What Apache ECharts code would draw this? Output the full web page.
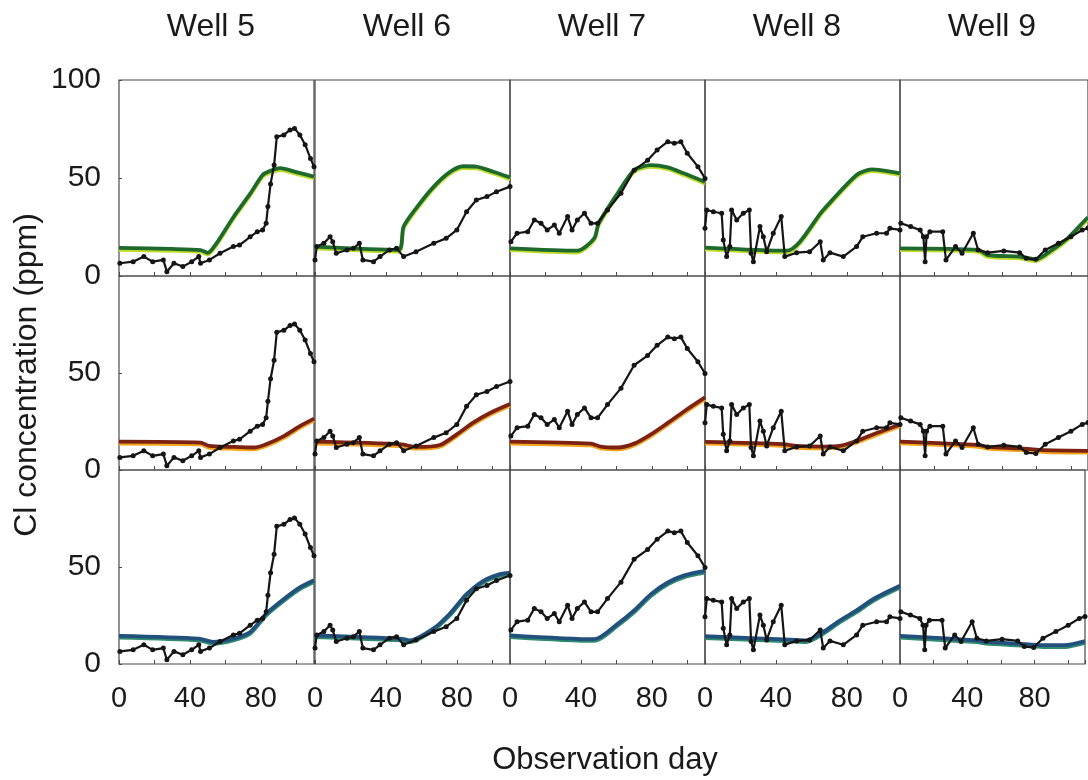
<!DOCTYPE html>
<html>
<head>
<meta charset="utf-8">
<script src="https://cdn.jsdelivr.net/npm/echarts@6/dist/echarts.min.js"></script>
<style>
html, body { margin: 0; padding: 0; background: #fff; }
#chart { width: 1088px; height: 780px; }
</style>
</head>
<body>
<div id="chart"></div>
<script>
var wells = ['Well 5', 'Well 6', 'Well 7', 'Well 8', 'Well 9'];

// observed Cl, [day, ppm]
var obs5 = [[0.5,6.5],[8,7.3],[14,9.9],[19,7.3],[25,8.2],[27,2.2],[31,6.5],[36,4.8],[41,7.3],[45,9.9],[46,6.5],[51,8.2],[57,11.6],[64.5,15],[68,15.8],[74,20],[78,22.6],[81,23.5],[83,26.9],[84,35.4],[85.5,47],[87.5,56.6],[89,71],[93,72],[96.5,74.5],[99,75.3],[102,72],[105,67],[108,60],[110,55.8]];
var obs6 = [[0,8.2],[1,15],[5,16.7],[8.5,20],[10,17.5],[12,11.6],[18,13.3],[21.6,14.1],[25,16.7],[27,8.2],[33,7.3],[36.7,9.9],[42,13.3],[46,14.1],[50,9.9],[57,12.4],[67,16.7],[74,19.2],[80,23.5],[85.5,32.8],[91,38.8],[97,40.5],[102.4,43],[110,45.6]];
var obs7 = [[0.5,17.5],[4,21.8],[10,22.6],[13.7,28.6],[17.5,26.9],[21,23.5],[25,26],[27.8,21.8],[32.5,30.3],[35,23.5],[38,28.6],[42,32],[45.7,26.9],[49.4,26.9],[55,33.7],[62.6,42.2],[70,54],[77.6,59],[83,64.3],[89,68.5],[92.7,67.7],[96.4,68.5],[100,62.6],[106,55.8],[110,49.8]];
var obs8 = [[0,24.3],[1,33.7],[4.7,32.8],[9.4,32],[10.3,18.4],[12.2,9.9],[14,15],[15,33.7],[17.9,28.6],[21.6,32],[25,33.7],[26,11.6],[27.3,7.3],[31,25.2],[32.9,20],[34.8,12.4],[38.5,21.8],[43,30.3],[45,9.9],[51.7,11.9],[59,12.4],[65,17.5],[66.7,8.2],[70.5,11.9],[78,9.9],[85.5,15],[89,20],[96.8,21.8],[102.4,21.8],[104.3,24.3],[110,23.5]];
var obs9 = [[0.5,26.9],[6.2,25.2],[11.8,23.5],[13.7,20],[14.7,7.3],[15.5,20],[17.5,22.6],[25,22.6],[26.9,8.2],[32.5,15],[36.3,11.6],[42.9,21.8],[45.7,13.3],[51.3,11.9],[60.7,12.8],[70,11.9],[73.9,9],[79.5,8.5],[85,13.3],[92.7,16.7],[100,20],[106.6,23.5],[110,24.5]];

// model run 1 (green, top row)
var green5 = [[0,14.3],[30,13.8],[46,13.2],[50,11.8],[55,16.7],[64.5,30],[74,42],[81,51.5],[85,53.5],[91,55],[100,53],[110,50.7]];
var green6 = [[0,15],[47,13.3],[50,25.2],[57,34.5],[67,45.6],[76,53],[83.6,56],[91,55.8],[100.5,53.2],[110,50.3]];
var green7 = [[0,14.1],[38,12.9],[47.5,19.2],[50,26.9],[60.7,42.2],[70,54],[79.5,56.6],[89,55.4],[98,52.4],[110,48]];
var green8 = [[0,14.5],[46,12.9],[66.7,33.7],[85.5,51.5],[94,54.4],[110,52.4]];
var green9 = [[0,14.1],[45.7,13.3],[51.3,10.7],[70,9.9],[79.5,8.5],[89,13.3],[98,19.2],[106.6,26.9],[110,30]];

// model run 2 (red, middle row)
var red5 = [[0,14.6],[46,14.1],[51,12.4],[64,11.9],[76,11.6],[83,13.3],[93,17.5],[102,22.6],[110,26.5]];
var red6 = [[0,14.6],[48,13.3],[57,11.9],[70.5,12.9],[80,18.4],[89,24.3],[98.7,29.4],[110,34]];
var red7 = [[0,14.6],[45.7,13.6],[51.3,12.1],[60.7,11.6],[70,13.6],[79.5,18.4],[89,24.3],[98.3,30.3],[110,37.4]];
var red8 = [[0,14.5],[44,13.3],[51.7,12.4],[66.7,12.1],[76,12.4],[85.5,15],[95,18.4],[110,23.5]];
var red9 = [[0,14.6],[45.7,12.9],[51.3,11.9],[70,11.2],[85,10.2],[110,9.9]];

// model run 3 (blue, bottom row)
var blue5 = [[0,14.5],[45,13.1],[53,11.4],[64.5,13.1],[74,16.5],[83,25.9],[93,33.5],[102,39.5],[110,43.2]];
var blue6 = [[0,14.8],[48,13.1],[53.6,12.2],[66.7,18.2],[76,25.9],[85.5,36],[95,42.9],[104.3,46.3],[110,47.1]];
var blue7 = [[0,14.8],[47.5,12.8],[60.7,20.7],[70,27.6],[79.5,36],[89,42],[98.3,45.7],[110,48]];
var blue8 = [[0,14.3],[48,12.6],[57,12.2],[66.7,16.5],[76,22.4],[85.5,27.6],[95,33.5],[110,40.3]];
var blue9 = [[0,14.5],[45.7,12.2],[51.3,11.4],[70,10.5],[85,9.7],[98,9.7],[110,11.8]];

var xTicks = [0, 40, 80];
var yTicks = [0, 50, 100];

var observed = [obs5, obs6, obs7, obs8, obs9];
var models = [
    [green5, green6, green7, green8, green9],
    [red5, red6, red7, red8, red9],
    [blue5, blue6, blue7, blue8, blue9]
];
var modelStyle = [
    { color: '#1d6a2c', shadow: '#c2dc2e' },
    { color: '#7c2212', shadow: '#f2a41c' },
    { color: '#22507c', shadow: '#2f8a70' }
];

var lefts = [119, 315, 510, 705, 900];
var tops = [80, 276, 470];
var heights = [196, 194, 194];
var font = '"Liberation Sans", Arial, sans-serif';

var grids = [], xAxes = [], yAxes = [], series = [];
for (var r = 0; r < 3; r++) {
    for (var c = 0; c < 5; c++) {
        var idx = r * 5 + c;
        grids.push({
            left: lefts[c], top: tops[r], width: 195, height: heights[r],
            show: true, borderColor: '#4a4a4a', borderWidth: 1.2, backgroundColor: 'transparent'
        });
        xAxes.push({
            type: 'value', gridIndex: idx, min: 0, max: 110, interval: 20,
            axisLine: { show: false },
            axisTick: { show: true, inside: true, length: 4, lineStyle: { color: '#4a4a4a' } },
            splitLine: { show: false },
            axisLabel: {
                show: r == 2, margin: 20, fontSize: 29, color: '#1a1a1a', fontFamily: font,
                formatter: function (v) { return xTicks.indexOf(v) >= 0 ? String(v) : ''; }
            }
        });
        yAxes.push({
            type: 'value', gridIndex: idx, min: 0, max: 100, interval: 50,
            axisLine: { show: false },
            axisTick: { show: c == 0, inside: true, length: 3, lineStyle: { color: '#4a4a4a' } },
            splitLine: { show: false },
            axisLabel: {
                show: c == 0, margin: 18, fontSize: 30, color: '#1a1a1a', fontFamily: font,
                showMaxLabel: r == 0,
                formatter: function (v) { return yTicks.indexOf(v) >= 0 ? String(v) : ''; }
            }
        });
        series.push({
            type: 'line', xAxisIndex: idx, yAxisIndex: idx, data: models[r][c],
            symbol: 'none', smooth: 0.25, z: 2,
            lineStyle: {
                color: modelStyle[r].color, width: 3.8,
                shadowColor: modelStyle[r].shadow, shadowOffsetY: 1.8, shadowBlur: 0
            }
        });
        series.push({
            type: 'line', xAxisIndex: idx, yAxisIndex: idx, data: observed[c],
            symbol: 'circle', symbolSize: 5, z: 3,
            itemStyle: { color: '#151515' },
            lineStyle: { color: '#151515', width: 2.2 }
        });
    }
}

var graphics = [];
for (var i = 0; i < wells.length; i++) {
    graphics.push({
        type: 'text', x: lefts[i] + 92, y: 27,
        style: { text: wells[i], font: '32px ' + font, fill: '#1a1a1a', textAlign: 'center', textVerticalAlign: 'middle' }
    });
}
graphics.push({
    type: 'text', x: 605, y: 760,
    style: { text: 'Observation day', font: '31px ' + font, fill: '#1a1a1a', textAlign: 'center', textVerticalAlign: 'middle' }
});
graphics.push({
    type: 'text', x: 27, y: 375, rotation: Math.PI / 2,
    style: { text: 'Cl concentration (ppm)', font: '32px ' + font, fill: '#1a1a1a', textAlign: 'center', textVerticalAlign: 'middle' }
});

var chart = echarts.init(document.getElementById('chart'));
chart.setOption({
    animation: false,
    backgroundColor: '#fff',
    grid: grids,
    xAxis: xAxes,
    yAxis: yAxes,
    series: series,
    graphic: graphics
});
</script>
</body>
</html>
